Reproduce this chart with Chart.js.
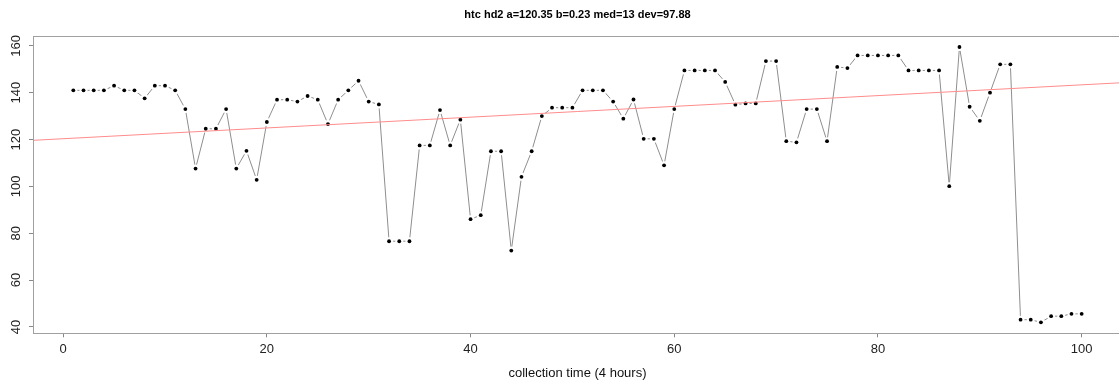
<!DOCTYPE html>
<html>
<head>
<meta charset="utf-8">
<script src="https://cdn.jsdelivr.net/npm/chart.js@4/dist/chart.umd.min.js"></script>
<style>
  html, body { margin: 0; padding: 0; background: #fff; overflow: hidden; }
  #wrap { width: 1126px; height: 381px; }
</style>
</head>
<body>
<div id="wrap"><canvas id="chart" width="1126" height="381"></canvas></div>
<script>
// =============================
// DATA
// =============================
const chartTitle = "htc hd2 a=120.35 b=0.23 med=13 dev=97.88";
const xTitle = "collection time (4 hours)";

const readings = [
  141, 141, 141, 141, 143, 141, 141, 137.6, 143, 143,          // 1-10
  141, 133, 107.6, 124.6, 124.6, 133, 107.6, 115.2, 102.8, 127.5,
  137, 137, 136.2, 138.6, 137, 126.6, 137, 141, 145.1, 136.2,
  135, 76.6, 76.6, 76.6, 117.5, 117.5, 132.6, 117.5, 128.5, 86,
  87.7, 115, 115, 72.6, 104.1, 115, 130, 133.6, 133.6, 133.6,
  141, 141, 141, 136.2, 128.9, 137.1, 120.3, 120.3, 109, 133,
  149.5, 149.5, 149.5, 149.5, 144.6, 134.9, 135.4, 135.4, 153.5, 153.5,
  119.3, 118.8, 133, 133, 119.3, 151, 150.5, 155.9, 155.9, 155.9,
  155.9, 155.9, 149.5, 149.5, 149.5, 149.5, 100.1, 159.5, 134, 128,
  140, 152.1, 152.1, 43.1, 43.1, 42, 44.6, 44.6, 45.6, 45.6      // 91-100
];

// fit line from the title: y = a + b*x
const fitA = 120.35;
const fitB = 0.23;

const xTicks = [0, 20, 40, 60, 80, 100];
const yTicks = [40, 60, 80, 100, 120, 140, 160];
const xRange = [-2.96, 103.96];
const yRange = [37.3, 164.2];

// =============================
// Build datasets
// =============================
const points = readings.map((v, i) => ({ x: i + 1, y: v }));
const fitLine = xRange.map(x => ({ x: x, y: fitA + fitB * x }));

// box around the plot region, like R's box()
const boxPlugin = {
  id: "box",
  afterDatasetsDraw(chart) {
    const a = chart.chartArea;
    const ctx = chart.ctx;
    ctx.save();
    ctx.strokeStyle = "#a0a0a0";
    ctx.lineWidth = 1;
    ctx.strokeRect(Math.round(a.left) + 0.5, Math.round(a.top) + 0.5,
      Math.round(a.right - a.left), Math.round(a.bottom - a.top));
    ctx.restore();
  }
};

const labelFont = { family: "'Liberation Sans', Arial, Helvetica, sans-serif", size: 13 };

new Chart(document.getElementById("chart"), {
  type: "scatter",
  data: {
    datasets: [
      { // regression line, on top
        data: fitLine, showLine: true, borderColor: "#ff8c8c", borderWidth: 1,
        pointRadius: 0, order: 0
      },
      { // dots
        data: points, showLine: false, pointRadius: 1.9,
        pointBackgroundColor: "#000", pointBorderWidth: 0, order: 1
      },
      { // white gap round each dot (type = "b")
        data: points, showLine: false, pointRadius: 4,
        pointBackgroundColor: "#fff", pointBorderWidth: 0, order: 2
      },
      { // connecting line
        data: points, showLine: true, borderColor: "#8e8e8e", borderWidth: 1,
        pointRadius: 0, order: 3
      }
    ]
  },
  options: {
    responsive: false,
    animation: false,
    layout: { padding: { left: 0, right: 3, top: 0, bottom: 0 } },
    plugins: {
      legend: { display: false },
      tooltip: { enabled: false },
      title: {
        display: true,
        text: chartTitle,
        fullSize: false,
        color: "#000",
        font: { family: "'Liberation Sans', Arial, Helvetica, sans-serif", size: 11, weight: "bold", lineHeight: 1.2 },
        padding: { top: 8, bottom: 14.8 }
      }
    },
    scales: {
      x: {
        type: "linear",
        min: xRange[0], max: xRange[1],
        afterBuildTicks: s => { s.ticks = xTicks.map(v => ({ value: v })); },
        afterFit: s => { s.height = 47.7; },
        border: { display: true, color: "#808080", width: 1 },
        grid: { drawOnChartArea: false, drawTicks: true, tickLength: 4, color: "#888" },
        ticks: { autoSkip: false, maxRotation: 0, color: "#222", font: labelFont, padding: 4 },
        title: { display: true, text: xTitle, color: "#111", font: labelFont, padding: { top: 0, bottom: 0 } }
      },
      y: {
        type: "linear",
        min: yRange[0], max: yRange[1],
        afterBuildTicks: s => { s.ticks = yTicks.map(v => ({ value: v })); },
        afterFit: s => { s.width = 33; },
        border: { display: true, color: "#808080", width: 1 },
        grid: { drawOnChartArea: false, drawTicks: true, tickLength: 4, color: "#888" },
        // labels read bottom to top, as in R
        ticks: { autoSkip: false, minRotation: 90, maxRotation: 90, crossAlign: "center",
          color: "#222", font: labelFont, padding: 2 }
      }
    }
  },
  plugins: [boxPlugin]
});
</script>
</body>
</html>
